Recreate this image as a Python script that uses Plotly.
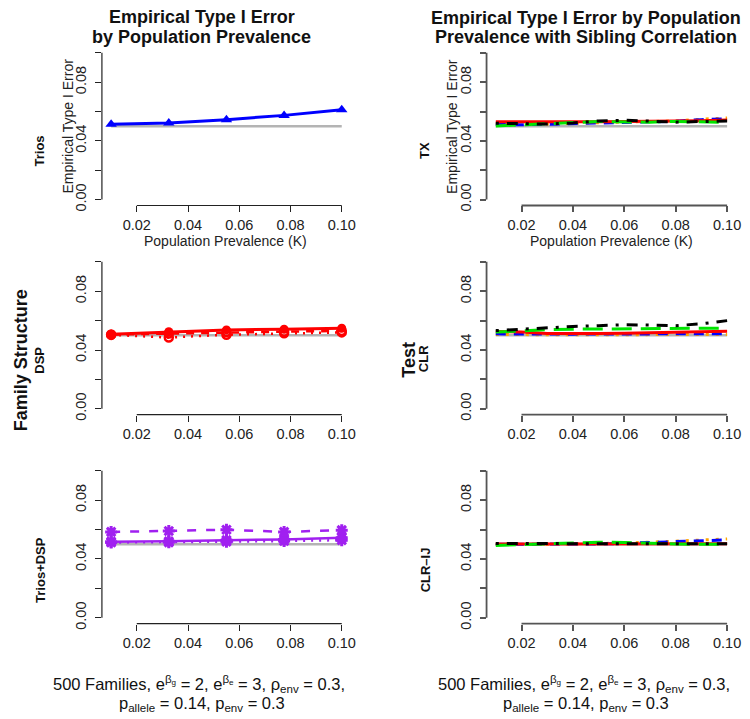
import plotly.graph_objects as go

# ---- data -----------------------------------------------------------------
# prevalence grid for the family-structure panels (left column)
K_FAMILY = [0.01, 0.0325, 0.055, 0.0775, 0.10]
# prevalence grid for the sibling-correlation panels (right column)
K_SIB = [0.01, 0.02, 0.03, 0.04, 0.05, 0.06, 0.07, 0.08, 0.09, 0.10]

NOMINAL = 0.05

# Trios
TRIOS = [0.0514, 0.0522, 0.0545, 0.0574, 0.0612]
# DSP
DSP_SOLID = [0.0507, 0.0524, 0.0537, 0.0541, 0.0548]
DSP_DASH = [0.0505, 0.0512, 0.0523, 0.0525, 0.0530]
DSP_DOT = [0.0503, 0.0485, 0.0504, 0.0514, 0.0520]
# Trios+DSP
TD_DASH = [0.0584, 0.0590, 0.0599, 0.0584, 0.0596]
TD_SOLID = [0.0518, 0.0520, 0.0528, 0.0533, 0.0545]
TD_DOT = [0.0512, 0.0513, 0.0518, 0.0522, 0.0528]

# TX
TX_ORANGE = [0.0515, 0.0512, 0.0516, 0.0520, 0.0522, 0.0527, 0.0530, 0.0536, 0.0548, 0.0556]
TX_BLUE = [0.0512, 0.0510, 0.0514, 0.0518, 0.0520, 0.0525, 0.0528, 0.0534, 0.0545, 0.0550]
TX_RED = [0.0531, 0.0530, 0.0528, 0.0528, 0.0530, 0.0532, 0.0533, 0.0535, 0.0538, 0.0542]
TX_GREEN = [0.0502, 0.0508, 0.0515, 0.0525, 0.0532, 0.0530, 0.0528, 0.0533, 0.0528, 0.0527]
TX_BLACK = [0.0520, 0.0518, 0.0515, 0.0522, 0.0536, 0.0541, 0.0532, 0.0528, 0.0532, 0.0535]
# CLR
CLR_ORANGE = [0.0506, 0.0504, 0.0503, 0.0503, 0.0504, 0.0504, 0.0505, 0.0505, 0.0505, 0.0506]
CLR_BLUE = [0.0510, 0.0508, 0.0507, 0.0508, 0.0509, 0.0509, 0.0510, 0.0510, 0.0510, 0.0511]
CLR_RED = [0.0526, 0.0522, 0.0512, 0.0510, 0.0512, 0.0514, 0.0517, 0.0520, 0.0524, 0.0528]
CLR_GREEN = [0.0522, 0.0532, 0.0538, 0.0542, 0.0544, 0.0545, 0.0546, 0.0546, 0.0548, 0.0549]
CLR_BLACK = [0.0532, 0.0542, 0.0552, 0.0560, 0.0566, 0.0572, 0.0570, 0.0566, 0.0578, 0.0600]
# CLR-IJ
IJ_ORANGE = [0.0502, 0.0500, 0.0500, 0.0502, 0.0504, 0.0508, 0.0514, 0.0522, 0.0528, 0.0536]
IJ_BLUE = [0.0500, 0.0500, 0.0498, 0.0500, 0.0502, 0.0506, 0.0512, 0.0518, 0.0524, 0.0530]
IJ_RED = [0.0502, 0.0502, 0.0502, 0.0502, 0.0503, 0.0503, 0.0503, 0.0503, 0.0503, 0.0503]
IJ_GREEN = [0.0492, 0.0498, 0.0506, 0.0512, 0.0514, 0.0512, 0.0506, 0.0502, 0.0500, 0.0500]
IJ_BLACK = [0.0505, 0.0505, 0.0503, 0.0505, 0.0507, 0.0508, 0.0507, 0.0505, 0.0503, 0.0503]

# labelled and unlabelled y ticks
Y_TICKS = [0.0, 0.04, 0.08]
Y_TICK_TEXT = ["0.00", "0.04", "0.08"]
Y_MINOR_TICKS = [0.02, 0.06, 0.10]
X_TICKS = [0.02, 0.04, 0.06, 0.08, 0.10]
X_TICK_TEXT = ["0.02", "0.04", "0.06", "0.08", "0.10"]

# ---- styling ----------------------------------------------------------------
FONT = "Liberation Sans, Arial, Helvetica, sans-serif"
W, H = 750, 719
GRAY = "#b4b4b4"
BLUE, RED, PURPLE = "#0000ff", "#ff0000", "#a020f0"
GREEN, BLACK, ORANGE = "#00e600", "#000000", "#ffa500"

X_DOM = {"L": [0.1368, 0.4711], "R": [0.6531, 0.9884]}
Y_DOM = {0: [0.7118, 0.9341], 1: [0.4184, 0.6410], 2: [0.1253, 0.3480]}
X_RANGE = [0.0064, 0.1036]
Y_RANGE = [-0.004, 0.104]

fig = go.Figure()

panels = []  # (axis index, column, row)
idx = 1
for row in range(3):
    for col in ("L", "R"):
        panels.append((idx, col, row))
        idx += 1

layout = dict(
    width=W, height=H,
    margin=dict(l=0, r=0, t=0, b=0),
    paper_bgcolor="white", plot_bgcolor="white",
    showlegend=False,
    font=dict(family=FONT, size=14, color="#1a1a1a"),
)
shapes = []
y_lo = min(Y_TICKS + Y_MINOR_TICKS)
y_hi = max(Y_TICKS + Y_MINOR_TICKS)
for i, col, row in panels:
    sfx = "" if i == 1 else str(i)
    axcol = "#222222" if col == "L" else "#555555"
    lw = 1.2 if col == "L" else 1.8
    layout["xaxis" + sfx] = dict(
        domain=X_DOM[col], range=X_RANGE, anchor="y" + sfx,
        showgrid=False, zeroline=False, showline=False,
        tickmode="array", tickvals=X_TICKS, ticktext=X_TICK_TEXT,
        ticks="outside", ticklen=6, tickwidth=lw, tickcolor=axcol,
        tickfont=dict(family=FONT, size=14.5, color="#222222"),
        ticklabelstandoff=0,
    )
    layout["yaxis" + sfx] = dict(
        domain=Y_DOM[row], range=Y_RANGE, anchor="x" + sfx,
        showgrid=False, zeroline=False, showline=False,
        tickmode="array", tickvals=Y_TICKS, ticktext=Y_TICK_TEXT,
        ticks="outside", ticklen=6, tickwidth=lw, tickcolor=axcol,
        minor=dict(tickmode="array", tickvals=Y_MINOR_TICKS, ticks="outside",
                   ticklen=6, tickwidth=lw, tickcolor=axcol, showgrid=False),
        tickangle=-90, ticklabelstandoff=3,
        tickfont=dict(family=FONT, size=14.5, color="#222222"),
    )
    xr = "x" + ("" if i == 1 else str(i))
    yr = "y" + ("" if i == 1 else str(i))
    # axis lines spanning the tick range only
    shapes.append(dict(type="line", xref=xr, yref=yr + " domain",
                       x0=X_TICKS[0], x1=X_TICKS[-1], y0=0, y1=0,
                       line=dict(color=axcol, width=lw)))
    shapes.append(dict(type="line", xref=xr + " domain", yref=yr,
                       x0=0, x1=0, y0=y_lo, y1=y_hi,
                       line=dict(color=axcol, width=lw)))
layout["shapes"] = shapes
fig.update_layout(**layout)


def ax(i):
    s = "" if i == 1 else str(i)
    return dict(xaxis="x" + s, yaxis="y" + s)


def ref_line(i, xs):
    fig.add_trace(go.Scatter(x=[xs[0], xs[-1]], y=[NOMINAL, NOMINAL], mode="lines",
                             line=dict(color=GRAY, width=2.5), hoverinfo="skip", **ax(i)))


def series(i, xs, ys, color, dash="solid", width=3, symbol=None, msize=9, mline=0):
    if symbol is None:
        fig.add_trace(go.Scatter(x=xs, y=ys, mode="lines",
                                 line=dict(color=color, width=width, dash=dash), **ax(i)))
    else:
        fig.add_trace(go.Scatter(x=xs, y=ys, mode="lines+markers",
                                 line=dict(color=color, width=width, dash=dash),
                                 marker=dict(symbol=symbol, size=msize, color=color,
                                             line=dict(color=color, width=mline)),
                                 **ax(i)))


DASH = "10px,8px"
LDASH = "20px,9px"
DOTDASH = "3px,8px,11px,8px"
DOT = "3px,7px"

# Trios
ref_line(1, K_FAMILY)
series(1, K_FAMILY, TRIOS, BLUE, symbol="triangle-up", msize=10)
# DSP
ref_line(3, K_FAMILY)
series(3, K_FAMILY, DSP_DOT, RED, dash="2px,6px", width=2.5, symbol="circle-open", msize=8, mline=2.5)
series(3, K_FAMILY, DSP_DASH, RED, dash="8px,7px", width=2.5, symbol="circle-open", msize=8, mline=2.5)
series(3, K_FAMILY, DSP_SOLID, RED, width=3, symbol="circle", msize=9)
# Trios+DSP
ref_line(5, K_FAMILY)
series(5, K_FAMILY, TD_DOT, PURPLE, dash="2px,6px", width=2.5, symbol="asterisk-open", msize=10, mline=3)
series(5, K_FAMILY, TD_SOLID, PURPLE, width=2.5, symbol="asterisk-open", msize=10, mline=3)
series(5, K_FAMILY, TD_DASH, PURPLE, dash="9px,10px", width=2.5, symbol="asterisk-open", msize=10, mline=3)

for i, (o, b, r, g, k) in zip(
        (2, 4, 6),
        ((TX_ORANGE, TX_BLUE, TX_RED, TX_GREEN, TX_BLACK),
         (CLR_ORANGE, CLR_BLUE, CLR_RED, CLR_GREEN, CLR_BLACK),
         (IJ_ORANGE, IJ_BLUE, IJ_RED, IJ_GREEN, IJ_BLACK))):
    ref_line(i, K_SIB)
    series(i, K_SIB, o, ORANGE, dash=DOT, width=3)
    series(i, K_SIB, b, BLUE, dash=DASH, width=3)
    series(i, K_SIB, r, RED, width=3)
    series(i, K_SIB, g, GREEN, dash=LDASH, width=3)
    series(i, K_SIB, k, BLACK, dash=DOTDASH, width=3)

# ---- text -----------------------------------------------------------------
annotations = []


def text(px, py, s, size=14, bold=False, angle=0, color="#111111"):
    annotations.append(dict(
        x=px / W, y=1 - py / H, xref="paper", yref="paper",
        text=s, showarrow=False, textangle=angle,
        xanchor="center", yanchor="middle",
        font=dict(family=FONT, size=size, color=color,
                  weight="bold" if bold else "normal"),
    ))


# column titles
text(203, 17, "Empirical Type I Error", 18, True)
text(203, 37, "by Population Prevalence", 18, True)
text(590, 18, "Empirical Type I Error by Population", 18, True)
text(590, 37, "Prevalence with Sibling Correlation", 18, True)

# axis titles on the top row
for cx, yx, xx in ((68, 127, 227.5), (455, 127, 615.8)):
    text(cx, yx, "Empirical Type I Error", 14, angle=-90, color="#222222")
    text(xx, 243.5, "Population Prevalence (K)", 14, color="#222222")

# row labels
text(40, 152, "Trios", 13, True, -90)
text(40, 363, "DSP", 13, True, -90)
text(40, 575, "Trios+DSP", 13, True, -90)
text(428, 152, "TX", 13, True, -90)
text(427, 362, "CLR", 13, True, -90)
text(428, 575, "CLR\u2013IJ", 13, True, -90)

# group labels
text(21.5, 363, "Family Structure", 18, True, -90)
text(411.5, 363, "Test", 18, True, -90)

# simulation settings
line1 = ("500 Families, e<sup>\u03b2<sub>g</sub></sup> = 2, "
         "e<sup>\u03b2<sub>e</sub></sup> = 3, \u03c1<sub>env</sub> = 0.3,")
line2 = "p<sub>allele</sub> = 0.14, p<sub>env</sub> = 0.3"
text(200, 690, line1, 16.5)
text(203, 710, line2, 16.5)
text(588, 690, line1, 16.5)
text(590, 710, line2, 16.5)

fig.update_layout(annotations=annotations)
fig.write_html("out.html")
